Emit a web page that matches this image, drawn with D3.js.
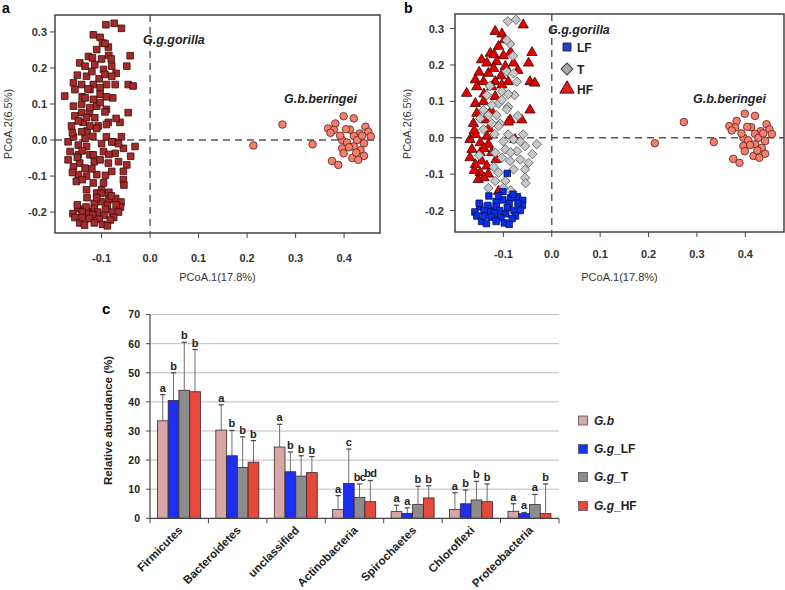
<!DOCTYPE html>
<html><head><meta charset="utf-8">
<script src="https://cdn.jsdelivr.net/npm/d3@7"></script>
<style>body{margin:0;background:#fff} svg{display:block;font-family:"Liberation Sans",Arial,sans-serif}</style>
</head><body><svg id="c" width="785" height="590"></svg>
<script>
// ---------- DATA ----------
// PCoA coordinates [PCoA.1, PCoA.2]
const gorillaLF = [[-0.092,-0.098],[-0.101,-0.148],[-0.071,-0.162],[-0.085,-0.165],[-0.060,-0.172],[-0.130,-0.160],[-0.115,-0.176],[-0.101,-0.171],[-0.088,-0.181],[-0.061,-0.186],[-0.149,-0.190],[-0.132,-0.186],[-0.115,-0.190],[-0.092,-0.192],[-0.159,-0.204],[-0.128,-0.204],[-0.108,-0.200],[-0.078,-0.200],[-0.065,-0.200],[-0.140,-0.200],[-0.118,-0.207],[-0.095,-0.209],[-0.125,-0.218],[-0.105,-0.220],[-0.075,-0.215],[-0.155,-0.215],[-0.145,-0.230],[-0.098,-0.234],[-0.082,-0.222],[-0.135,-0.236],[-0.110,-0.160],[-0.070,-0.180],[-0.150,-0.180],[-0.088,-0.238],[-0.140,-0.215],[-0.115,-0.230],[-0.080,-0.155]];
const gorillaT = [[-0.091,0.320],[-0.074,0.324],[-0.086,0.258],[-0.093,0.268],[-0.093,0.182],[-0.079,0.177],[-0.072,0.154],[-0.077,0.117],[-0.103,0.127],[-0.110,0.094],[-0.134,0.117],[-0.124,0.090],[-0.141,0.076],[-0.103,0.104],[-0.090,0.085],[-0.148,0.053],[-0.131,0.062],[-0.114,0.062],[-0.107,0.039],[-0.124,0.039],[-0.128,0.142],[-0.093,0.078],[-0.141,0.023],[-0.110,0.032],[-0.090,0.009],[-0.059,0.009],[-0.079,-0.005],[-0.031,-0.018],[-0.055,-0.023],[-0.096,-0.032],[-0.072,-0.037],[-0.117,-0.041],[-0.065,-0.060],[-0.048,-0.069],[-0.086,-0.064],[-0.103,-0.055],[-0.079,-0.087],[-0.055,-0.087],[-0.110,-0.096],[-0.117,-0.119],[-0.096,-0.119],[-0.131,-0.138],[-0.100,-0.138],[-0.141,-0.193],[-0.055,-0.110],[-0.150,-0.048],[-0.054,-0.125],[-0.085,-0.040],[-0.065,-0.010],[-0.100,-0.010],[-0.120,-0.080],[-0.090,0.120],[-0.070,0.060],[-0.085,-0.145],[-0.040,-0.045],[-0.118,0.010],[-0.080,0.225]];
const gorillaHF = [[-0.059,0.310],[-0.117,0.292],[-0.103,0.285],[-0.098,0.269],[-0.110,0.251],[-0.127,0.232],[-0.119,0.228],[-0.145,0.214],[-0.134,0.205],[-0.114,0.209],[-0.041,0.234],[-0.048,0.205],[-0.079,0.205],[-0.096,0.196],[-0.131,0.177],[-0.158,0.159],[-0.141,0.154],[-0.117,0.154],[-0.090,0.154],[-0.045,0.154],[-0.035,0.150],[-0.176,0.122],[-0.155,0.140],[-0.124,0.140],[-0.103,0.145],[-0.158,0.094],[-0.141,0.099],[-0.117,0.113],[-0.045,0.076],[-0.062,0.049],[-0.086,0.049],[-0.155,0.067],[-0.138,0.049],[-0.162,0.039],[-0.090,0.043],[-0.169,-0.005],[-0.158,0.009],[-0.148,-0.014],[-0.134,0.004],[-0.131,-0.018],[-0.165,-0.032],[-0.148,-0.041],[-0.124,-0.041],[-0.169,-0.055],[-0.145,-0.064],[-0.158,-0.074],[-0.134,-0.078],[-0.148,-0.096],[-0.131,-0.100],[-0.152,-0.115],[-0.076,-0.005],[-0.110,-0.147],[-0.127,-0.198],[-0.121,-0.211],[-0.150,0.180],[-0.120,0.190],[-0.100,0.225],[-0.085,0.235],[-0.140,0.120],[-0.125,0.075],[-0.160,0.020],[-0.140,-0.030],[-0.115,-0.060],[-0.160,-0.090],[-0.140,-0.110],[-0.130,0.025],[-0.105,0.170],[-0.070,0.185]];
const beringei = [[0.213,-0.015],[0.273,0.043],[0.335,-0.012],[0.399,0.066],[0.420,0.060],[0.382,0.046],[0.367,0.032],[0.379,0.028],[0.372,0.020],[0.412,0.029],[0.444,0.037],[0.432,0.018],[0.450,0.023],[0.420,0.011],[0.455,0.010],[0.396,0.000],[0.406,-0.007],[0.427,0.000],[0.441,-0.009],[0.396,-0.023],[0.420,-0.018],[0.434,-0.028],[0.399,-0.037],[0.441,-0.044],[0.375,-0.058],[0.388,-0.069],[0.417,-0.050],[0.429,-0.055],[0.410,-0.020],[0.437,0.012],[0.392,0.012],[0.425,-0.035],[0.404,0.030]];
// LF ellipse: center, semi-axes (data units), tilt (deg)
const lfEllipse = {cx:-0.105, cy:-0.165, rx:0.060, ry:0.102, tilt:14};
const pcoaXTicks = [-0.1,0.0,0.1,0.2,0.3,0.4];
const pcoaYTicks = [-0.2,-0.1,0.0,0.1,0.2,0.3];

// Bar chart
const phyla = ["Firmicutes","Bacteroidetes","unclassified","Actinobacteria","Spirochaetes","Chloroflexi","Proteobacteria"];
const groups = ["G.b","G.g_LF","G.g_T","G.g_HF"];
const meanGb = [33.5,30.3,24.5,3.0,2.3,3.0,2.4];
const meanLF = [40.5,21.5,16.0,12.0,1.7,5.0,1.6];
const meanT  = [44.0,17.5,14.5,7.2,4.8,6.3,4.7];
const meanHF = [43.5,19.3,15.7,5.7,7.0,5.7,1.6];
const sdGb = [9.0,8.7,7.8,4.8,2.2,5.8,2.6];
const sdLF = [9.5,8.7,6.8,11.8,1.9,4.7,0.4];
const sdT  = [16.5,10.5,7.0,4.6,6.2,6.4,3.5];
const sdHF = [14.5,7.4,5.5,7.3,4.2,6.1,10.2];
const letGb = ["a","a","a","a","a","a","a"];
const letLF = ["b","b","b","c","a","b","a"];
const letT  = ["b","b","b","bc","b","b","a"];
const letHF = ["b","b","b","bd","b","b","b"];
const barYTicks = [0,10,20,30,40,50,60,70];

// ---------- DRAW ----------
const svg = d3.select("#c");
const fmt = v => v.toFixed(1);

function pcoaPanel(fr, xDom, yDom, mode, letter, letterX, yTitleX, tickLabX, tickLabY) {
  const x = d3.scaleLinear().domain(xDom).range([fr.l, fr.r]);
  const y = d3.scaleLinear().domain(yDom).range([fr.b, fr.t]);
  const g = svg.append("g");
  const cid = "clip"+mode;
  svg.append("clipPath").attr("id",cid).append("rect")
    .attr("x",fr.l).attr("y",fr.t).attr("width",fr.r-fr.l).attr("height",fr.b-fr.t);
  g.append("line").attr("x1",x(0)).attr("x2",x(0)).attr("y1",fr.t).attr("y2",fr.b)
    .attr("stroke","#555").attr("stroke-width",1.4).attr("stroke-dasharray","7,5");
  g.append("line").attr("x1",fr.l).attr("x2",fr.r).attr("y1",y(0)).attr("y2",y(0))
    .attr("stroke","#555").attr("stroke-width",1.4).attr("stroke-dasharray","7,5");
  const sq = d3.symbol().type(d3.symbolSquare);
  if (mode === "a") {
    const all = gorillaHF.concat(gorillaT, gorillaLF);
    g.selectAll(".ga").data(all).join("path")
      .attr("d", sq.size(44)())
      .attr("transform", d => `translate(${x(d[0])},${y(d[1])})`)
      .attr("fill","#a52b2b").attr("stroke","#3a0c0c").attr("stroke-width",0.8);
  } else {
    g.selectAll(".hf").data(gorillaHF).join("path")
      .attr("d", d3.symbol().type(d3.symbolTriangle).size(46)())
      .attr("transform", d => `translate(${x(d[0])},${y(d[1])})`)
      .attr("fill","#e50000").attr("stroke","#3a0000").attr("stroke-width",0.8);
    g.selectAll(".t").data(gorillaT).join("path")
      .attr("d", sq.size(44)())
      .attr("transform", d => `translate(${x(d[0])},${y(d[1])}) rotate(45)`)
      .attr("fill","#c8c8c8").attr("stroke","#5a5a5a").attr("stroke-width",0.8);
    g.selectAll(".lf").data(gorillaLF).join("path")
      .attr("d", sq.size(42)())
      .attr("transform", d => `translate(${x(d[0])},${y(d[1])})`)
      .attr("fill","#0a2ee8").attr("stroke","#00105a").attr("stroke-width",0.8);
    const e = lfEllipse;
    g.append("ellipse").attr("clip-path",`url(#${cid})`)
      .attr("cx",0).attr("cy",0)
      .attr("rx", x(e.rx)-x(0)).attr("ry", y(0)-y(e.ry))
      .attr("transform",`translate(${x(e.cx)},${y(e.cy)}) rotate(${e.tilt})`)
      .attr("fill","none").attr("stroke","#1a2be0").attr("stroke-width",1.6);
  }
  g.selectAll(".gb").data(beringei).join("circle")
    .attr("cx", d => x(d[0])).attr("cy", d => y(d[1])).attr("r",3.8)
    .attr("fill","#f47f6c").attr("stroke","#5a1e1e").attr("stroke-width",0.8);
  g.append("rect").attr("x",fr.l).attr("y",fr.t).attr("width",fr.r-fr.l).attr("height",fr.b-fr.t)
    .attr("fill","none").attr("stroke","#444").attr("stroke-width",1.5);
  pcoaXTicks.forEach(v => {
    g.append("line").attr("x1",x(v)).attr("x2",x(v)).attr("y1",fr.b).attr("y2",fr.b+5).attr("stroke","#444");
    g.append("text").attr("x",x(v)).attr("y",tickLabX).attr("text-anchor","middle")
      .attr("font-size",11).attr("font-weight","bold").attr("fill","#333").text(fmt(v));
  });
  pcoaYTicks.forEach(v => {
    g.append("line").attr("x1",fr.l-5).attr("x2",fr.l).attr("y1",y(v)).attr("y2",y(v)).attr("stroke","#444");
    g.append("text").attr("x",tickLabY).attr("y",y(v)+4).attr("text-anchor","end")
      .attr("font-size",11).attr("font-weight","bold").attr("fill","#333").text(fmt(v));
  });
  g.append("text").attr("x",(fr.l+fr.r)/2).attr("y",281).attr("text-anchor","middle")
    .attr("font-size",11).attr("fill","#333").text("PCoA.1(17.8%)");
  g.append("text").attr("transform",`translate(${yTitleX},124) rotate(-90)`).attr("text-anchor","middle")
    .attr("font-size",11).attr("fill","#333").text("PCoA.2(6.5%)");
  g.append("text").attr("x",letterX).attr("y",13).attr("font-size",14).attr("font-weight","bold").text(letter);
  return {x, y, g};
}

// Panel a
const A = pcoaPanel({l:55,r:380,t:15,b:233}, [-0.196,0.474], [-0.258,0.347], "a", "a", 2, 12, 262, 47);
A.g.append("text").attr("x",143).attr("y",44).attr("font-size",12.5).attr("font-weight","bold")
  .attr("font-style","italic").attr("fill","#222").text("G.g.gorilla");
A.g.append("text").attr("x",284).attr("y",103).attr("font-size",12.5).attr("font-weight","bold")
  .attr("font-style","italic").attr("fill","#222").text("G.b.beringei");

// Panel b
const B = pcoaPanel({l:455,r:784,t:14,b:232}, [-0.2,0.48], [-0.259,0.34], "b", "b", 404, 411, 258, 444);
B.g.append("text").attr("x",548).attr("y",34).attr("font-size",12.5).attr("font-weight","bold")
  .attr("font-style","italic").attr("fill","#222").text("G.g.gorilla");
B.g.append("text").attr("x",693).attr("y",103).attr("font-size",12.5).attr("font-weight","bold")
  .attr("font-style","italic").attr("fill","#222").text("G.b.beringei");
const legB = [
  {lab:"LF", y:47, sym:"sq"},
  {lab:"T", y:69, sym:"dm"},
  {lab:"HF", y:89, sym:"tr"}];
legB.forEach(d => {
  let p;
  if (d.sym==="sq") p = B.g.append("path").attr("d",d3.symbol().type(d3.symbolSquare).size(62)())
      .attr("transform",`translate(567,${d.y})`).attr("fill","#2a40c8").attr("stroke","#101a50");
  if (d.sym==="dm") p = B.g.append("path").attr("d",d3.symbol().type(d3.symbolSquare).size(72)())
      .attr("transform",`translate(567,${d.y}) rotate(45)`).attr("fill","#a8a8a8").attr("stroke","#404040");
  if (d.sym==="tr") p = B.g.append("path").attr("d",d3.symbol().type(d3.symbolTriangle).size(88)())
      .attr("transform",`translate(567,${d.y})`).attr("fill","#e02020").attr("stroke","#501010");
  p.attr("stroke-width",1);
  B.g.append("text").attr("x",577).attr("y",d.y+5).attr("font-size",12).attr("font-weight","bold")
    .attr("fill","#222").text(d.lab);
});

// Panel c
const means = [meanGb, meanLF, meanT, meanHF];
const sds = [sdGb, sdLF, sdT, sdHF];
const lets = [letGb, letLF, letT, letHF];
const colors = ["#d8a6a6","#1b30f2","#8c8c8c","#e6483a"];
const xc = d3.scaleBand().domain(phyla).range([150,559]);
const xs = d3.scaleBand().domain(groups).range([7.4, 50.4]);
const yc = d3.scaleLinear().domain([0,70]).range([518.3, 314.6]);
const gc = svg.append("g");
barYTicks.forEach(v => {
  if (v>0) gc.append("line").attr("x1",150).attr("x2",559).attr("y1",yc(v)).attr("y2",yc(v))
    .attr("stroke","#bdbdbd").attr("stroke-width",1);
  gc.append("line").attr("x1",146).attr("x2",150).attr("y1",yc(v)).attr("y2",yc(v)).attr("stroke","#444");
  gc.append("text").attr("x",140).attr("y",yc(v)+3.8).attr("text-anchor","end")
    .attr("font-size",10.5).attr("font-weight","bold").attr("fill","#222").text(v);
});
const rows = [];
phyla.forEach((p,i) => groups.forEach((gname,j) => rows.push({p, g:gname, j, m:means[j][i], s:sds[j][i], l:lets[j][i]})));
rows.forEach(d => {
  const cx = xc(d.p)+xs(d.g)+xs.bandwidth()/2;
  gc.append("line").attr("x1",cx).attr("x2",cx).attr("y1",yc(d.m)).attr("y2",yc(d.m+d.s))
    .attr("stroke","#6e6e6e").attr("stroke-width",1);
  gc.append("line").attr("x1",cx-2.6).attr("x2",cx+2.6).attr("y1",yc(d.m+d.s)).attr("y2",yc(d.m+d.s))
    .attr("stroke","#444").attr("stroke-width",1.2);
});
gc.selectAll(".bar").data(rows).join("rect")
  .attr("x", d => xc(d.p)+xs(d.g)).attr("width", xs.bandwidth())
  .attr("y", d => yc(d.m)).attr("height", d => yc(0)-yc(d.m))
  .attr("fill", d => colors[d.j]).attr("stroke","#3a2a2a").attr("stroke-width",0.8);
gc.selectAll(".let").data(rows).join("text")
  .attr("x", d => xc(d.p)+xs(d.g)+xs.bandwidth()/2).attr("y", d => yc(d.m+d.s)-3)
  .attr("text-anchor","middle").attr("font-size",11).attr("font-weight","bold").attr("fill","#222")
  .attr("letter-spacing", d => d.l.length > 1 ? -0.6 : 0)
  .text(d => d.l);
gc.append("line").attr("x1",150).attr("x2",150).attr("y1",yc(70)).attr("y2",yc(0)).attr("stroke","#444").attr("stroke-width",1.2);
gc.append("line").attr("x1",150).attr("x2",559).attr("y1",yc(0)).attr("y2",yc(0)).attr("stroke","#444").attr("stroke-width",1.2);
phyla.concat(["end"]).forEach((p,i) => {
  const xx = i < phyla.length ? xc(p) : 559;
  gc.append("line").attr("x1",xx).attr("x2",xx).attr("y1",yc(0)).attr("y2",yc(0)+5).attr("stroke","#444");
});
phyla.forEach(p => {
  const cx = xc(p)+xc.bandwidth()/2;
  gc.append("text").attr("transform",`translate(${cx+4},${531}) rotate(-45)`).attr("text-anchor","end")
    .attr("font-size",11.5).attr("font-weight","bold").attr("fill","#222").text(p);
});
gc.append("text").attr("transform",`translate(112,${(yc(0)+yc(70))/2+4}) rotate(-90)`).attr("text-anchor","middle")
  .attr("font-size",11.5).attr("font-weight","bold").attr("fill","#222").text("Relative abundance (%)");
gc.append("text").attr("x",102).attr("y",314).attr("font-size",15).attr("font-weight","bold").text("c");
const legY = [420.5,449,477,506];
groups.forEach((gname,j) => {
  gc.append("rect").attr("x",578.5).attr("y",legY[j]-4.5).attr("width",9).attr("height",9)
    .attr("fill",colors[j]).attr("stroke","#555").attr("stroke-width",0.8);
  const parts = gname.split("_");
  const t = gc.append("text").attr("x",594).attr("y",legY[j]+4.2).attr("font-size",12)
    .attr("font-weight","bold").attr("fill","#222");
  t.append("tspan").attr("font-style","italic").text(parts[0]);
  if (parts[1]) t.append("tspan").text("_"+parts[1]);
});
</script></body></html>
